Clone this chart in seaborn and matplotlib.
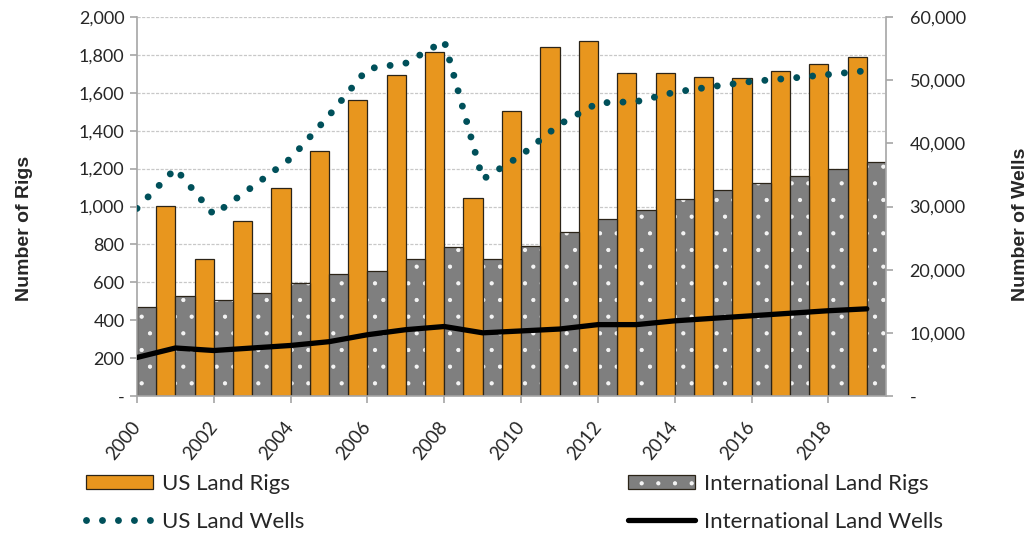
import matplotlib
matplotlib.use("Agg")
import matplotlib.pyplot as plt
import matplotlib.colors as mcolors
from matplotlib.patches import Patch
from matplotlib.lines import Line2D
from matplotlib.ticker import FuncFormatter, MultipleLocator, FixedLocator
import pandas as pd
import seaborn as sns

# ---- data -------------------------------------------------------------
years = list(range(2000, 2020))
us_rig_years = list(range(2001, 2020))
us_land_rigs = [1005, 722, 924, 1097, 1292, 1562, 1694, 1815, 1044, 1505,
                1842, 1871, 1706, 1704, 1683, 1676, 1715, 1752, 1789]
intl_land_rigs = [468, 528, 509, 542, 595, 644, 658, 722, 785, 722,
                  790, 864, 933, 979, 1039, 1086, 1125, 1160, 1197, 1236]
us_land_wells = [29700, 36000, 28700, 33100, 37600, 44400, 51800, 52700, 56200, 34300,
                 38100, 43000, 46400, 46600, 48100, 49000, 49800, 50300, 50900, 51500]
intl_land_wells = [6100, 7600, 7200, 7600, 8000, 8600, 9700, 10500, 11000, 10000,
                   10300, 10600, 11300, 11300, 11900, 12300, 12700, 13100, 13500, 13800]
x_tick_years = list(range(2000, 2019, 2))

series_us = "US Land Rigs"
series_intl = "International Land Rigs"
ORANGE = "#E8961E"
GRAY = "#7F7F7F"
TEAL = "#00505A"
EDGE = "#2B2418"
AXIS_GRAY = "#A6A6A6"

rigs = pd.concat([
    pd.DataFrame({"year": us_rig_years, "rigs": us_land_rigs, "series": series_us}),
    pd.DataFrame({"year": years, "rigs": intl_land_rigs, "series": series_intl}),
], ignore_index=True)

sns.set_style("white")
plt.rcParams["font.family"] = ["Lato", "DejaVu Sans"]
plt.rcParams["hatch.linewidth"] = 0.6

W, H = 1027, 535
fig = plt.figure(figsize=(W / 100, H / 100), dpi=100)
ax = fig.add_axes([137 / W, 1 - 396 / H, (886 - 137) / W, (396 - 17) / H])

# ---- rig bars (left axis) -------------------------------------------
sns.barplot(data=rigs, x="year", y="rigs", hue="series",
            hue_order=[series_us, series_intl],
            palette={series_us: ORANGE, series_intl: GRAY},
            native_scale=True, dodge=True, width=1.0, gap=0,
            errorbar=None, saturation=1, edgecolor=EDGE, linewidth=0.9,
            legend=False, ax=ax, zorder=2)

white = mcolors.to_rgba("white", 0.9)
for bar in ax.patches:
    fc = mcolors.to_hex(bar.get_facecolor())
    if fc.lower() == GRAY.lower():
        bar.set_hatch(".")
        bar._hatch_color = white

ax.set_xlim(2000, 2019.5)
ax.set_ylim(0, 2000)
ax.yaxis.set_major_locator(MultipleLocator(200))
ax.xaxis.set_major_locator(FixedLocator(x_tick_years))
ax.yaxis.set_major_formatter(FuncFormatter(lambda v, p: "-" if v == 0 else f"{v:,.0f}"))
ax.grid(axis="y", color="#C8C8C8", linestyle=(0, (2.5, 1.2)), linewidth=0.9, zorder=0)
ax.grid(axis="x", visible=False)
ax.set_axisbelow(True)
ax.set_xlabel("")
ax.set_ylabel("Number of Rigs", fontsize=14, fontweight="bold",
              family=["Liberation Sans", "DejaVu Sans"])
ax.yaxis.set_label_coords(-0.139, 0.443)

for side in ["top", "right"]:
    ax.spines[side].set_visible(False)
for side in ["left", "bottom"]:
    ax.spines[side].set_color(AXIS_GRAY)
    ax.spines[side].set_linewidth(1.2)

ax.tick_params(axis="y", which="major", length=5, width=1.2, color=AXIS_GRAY,
               labelsize=13, pad=4, left=True, direction="out")
ax.tick_params(axis="x", which="major", length=5, width=1.2, color=AXIS_GRAY,
               labelsize=13.5, pad=15, bottom=True, direction="out")
for lab in ax.get_xticklabels():
    lab.set_rotation(51)
    lab.set_ha("right")
    lab.set_va("center")
    lab.set_rotation_mode("anchor")

# ---- wells lines (right axis) ---------------------------------------
ax2 = ax.twinx()
sns.lineplot(x=years, y=us_land_wells, ax=ax2, color=TEAL, linewidth=5,
             linestyle=(0, (0.001, 2.3)), dash_capstyle="round", zorder=3)
sns.lineplot(x=years, y=intl_land_wells, ax=ax2, color="black", linewidth=3.8,
             solid_capstyle="round", solid_joinstyle="round", zorder=3)
ax2.set_ylim(0, 60000)
ax2.set_xlim(2000, 2019.5)
ax2.yaxis.set_major_locator(MultipleLocator(10000))
ax2.yaxis.set_major_formatter(FuncFormatter(lambda v, p: "-" if v == 0 else f"{v:,.0f}"))
ax2.set_ylabel("Number of Wells", fontsize=14, fontweight="bold",
               family=["Liberation Sans", "DejaVu Sans"], rotation=90)
ax2.yaxis.set_label_coords(1.168, 0.454)
for side in ["top", "left", "bottom"]:
    ax2.spines[side].set_visible(False)
ax2.spines["right"].set_color(AXIS_GRAY)
ax2.spines["right"].set_linewidth(1.2)
ax2.tick_params(axis="y", length=5, width=1.2, color=AXIS_GRAY, labelsize=13,
                pad=12, right=True, direction="out")
ax2.grid(False)

# ---- legend -----------------------------------------------------------
h_us = Patch(facecolor=ORANGE, edgecolor=EDGE, linewidth=0.9)
h_intl = Patch(facecolor=GRAY, edgecolor=EDGE, linewidth=0.9, hatch=".")
h_usw = Line2D([0], [0], color=TEAL, linewidth=5, linestyle=(0, (0.001, 2.3)),
               dash_capstyle="round")
h_inw = Line2D([0], [0], color="black", linewidth=3.8, solid_capstyle="round")

leg_kw = dict(frameon=False, fontsize=16, handlelength=3.0, handleheight=0.55,
              handletextpad=0.4, labelspacing=0.8, borderpad=0, borderaxespad=0,
              loc="upper left")
leg1 = fig.legend([h_us, h_usw], [series_us, "US Land Wells"],
                  bbox_to_anchor=(86 / W, 1 - 474 / H), **leg_kw)
leg2 = fig.legend([h_intl, h_inw], [series_intl, "International Land Wells"],
                  bbox_to_anchor=(628 / W, 1 - 474 / H), **leg_kw)
for p in leg2.get_patches():
    p.set_hatch(".")
    p._hatch_color = white

fig.savefig("out.png", dpi=100)
